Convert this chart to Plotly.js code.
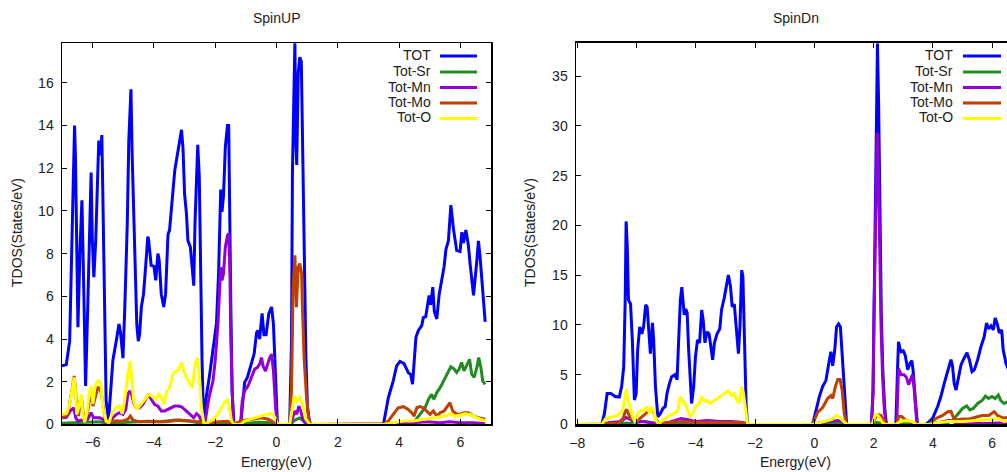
<!DOCTYPE html>
<html><head><meta charset="utf-8">
<script src="https://cdn.plot.ly/plotly-3.0.1.min.js"></script>
<style>html,body{margin:0;padding:0;background:#fff}#chart{width:1007px;height:472px}</style>
</head><body><div id="chart"></div>
<script>
// ---------- data: [energy (eV), DOS (states/eV)] ----------
const seriesNames = ['TOT', 'Tot-Sr', 'Tot-Mn', 'Tot-Mo', 'Tot-O'];
const seriesColors = ['#0000ff', '#228b22', '#9400d3', '#c04000', '#ffff00'];
const panelTitles = ['SpinUP', 'SpinDn'];
const xLabel = 'Energy(eV)';
const yLabel = 'TDOS(States/eV)';
const upXTicks = [-6, -4, -2, 0, 2, 4, 6];
const upYTicks = [0, 2, 4, 6, 8, 10, 12, 14, 16];
const dnXTicks = [-8, -6, -4, -2, 0, 2, 4, 6];
const dnYTicks = [0, 5, 10, 15, 20, 25, 30, 35];

// SpinUP
const upTot = [[-7.00,2.74],[-6.86,2.80],[-6.75,3.9],[-6.67,8.6],[-6.61,13.0],[-6.59,14.0],[-6.56,12.5],[-6.52,7.1],[-6.48,4.55],[-6.41,8.3],[-6.35,10.5],[-6.30,7.1],[-6.23,1.8],[-6.16,5.5],[-6.08,11.3],[-6.05,11.8],[-6.01,8.6],[-5.96,6.9],[-5.90,8.6],[-5.83,12.9],[-5.80,13.3],[-5.75,12.6],[-5.70,13.55],[-5.67,11.0],[-5.61,5.5],[-5.56,1.1],[-5.48,0.2],[-5.42,1.4],[-5.34,3.0],[-5.23,3.9],[-5.14,4.7],[-5.09,4.3],[-5.01,3.1],[-4.95,5.5],[-4.87,9.4],[-4.82,13.3],[-4.77,15.7],[-4.75,15.7],[-4.71,12.6],[-4.63,8.6],[-4.56,4.7],[-4.51,3.9],[-4.47,4.2],[-4.41,5.5],[-4.34,6.1],[-4.27,7.4],[-4.20,8.8],[-4.17,8.6],[-4.09,7.45],[-4.00,7.4],[-3.94,6.75],[-3.87,8.0],[-3.83,7.7],[-3.76,6.1],[-3.68,5.5],[-3.62,6.1],[-3.54,8.9],[-3.49,9.1],[-3.40,10.7],[-3.32,11.9],[-3.25,12.5],[-3.19,13.0],[-3.10,13.8],[-3.05,12.9],[-3.00,10.8],[-2.94,9.9],[-2.89,8.6],[-2.81,8.3],[-2.75,7.1],[-2.70,6.5],[-2.66,9.4],[-2.61,12.1],[-2.57,13.1],[-2.52,11.6],[-2.48,7.1],[-2.43,3.0],[-2.38,0.1],[-2.29,1.3],[-2.18,2.35],[-2.07,3.45],[-1.96,4.7],[-1.89,7.1],[-1.82,11.0],[-1.78,9.95],[-1.73,10.7],[-1.67,13.0],[-1.60,14.0],[-1.56,14.0],[-1.54,11.0],[-1.49,5.5],[-1.45,1.57],[-1.39,0.03],[-1.17,0],[-1.09,1.4],[-1.04,1.96],[-0.95,2.2],[-0.84,2.74],[-0.73,3.3],[-0.65,4.3],[-0.60,4.4],[-0.55,4.0],[-0.47,5.2],[-0.41,4.2],[-0.34,4.2],[-0.25,5.2],[-0.16,5.5],[-0.10,4.7],[-0.03,2.35],[0.03,0],[0.43,0],[0.49,3.9],[0.52,11.8],[0.56,15.7],[0.60,17.9],[0.63,13.3],[0.66,12.15],[0.71,16.5],[0.76,17.2],[0.81,17.0],[0.85,13.3],[0.90,7.1],[0.96,3.1],[1.01,0.8],[1.09,0],[3.49,0],[3.65,1.25],[3.81,2.04],[3.92,2.74],[4.03,2.95],[4.16,2.85],[4.30,2.43],[4.38,2.33],[4.44,1.88],[4.49,2.85],[4.55,4.08],[4.63,4.4],[4.74,4.63],[4.79,5.0],[4.87,5.05],[4.92,5.5],[4.98,6.04],[5.03,5.6],[5.10,6.43],[5.15,5.3],[5.23,4.94],[5.31,6.1],[5.39,6.8],[5.47,7.4],[5.53,8.2],[5.61,8.6],[5.69,10.27],[5.78,9.1],[5.88,8.15],[5.99,8.1],[6.05,9.0],[6.10,8.5],[6.18,9.1],[6.26,8.4],[6.32,7.5],[6.37,6.75],[6.43,6.04],[6.54,7.7],[6.59,8.6],[6.64,7.9],[6.73,6.3],[6.81,4.8]];
const upSr = [[-7.0,0.05],[-6.6,0.08],[-6.2,0.1],[-5.8,0.12],[-5.5,0.05],[-5.0,0.08],[-4.6,0.1],[-4.2,0.15],[-3.8,0.12],[-3.3,0.2],[-2.8,0.15],[-2.4,0.05],[-2.3,0],[-2.0,0.05],[-1.6,0.1],[-1.4,0],[-1.1,0.05],[-0.6,0.1],[-0.1,0.08],[0.05,0],[0.45,0],[0.6,0.2],[0.75,0.3],[0.9,0.15],[1.05,0],[3.5,0],[4.0,0.05],[4.47,0.08],[4.68,0.47],[4.85,0.78],[4.96,1.18],[5.06,1.41],[5.14,1.18],[5.23,1.49],[5.34,1.72],[5.45,2.04],[5.58,2.35],[5.69,2.7],[5.80,2.59],[5.88,2.43],[5.96,2.59],[6.04,2.9],[6.12,2.51],[6.21,2.82],[6.30,3.05],[6.37,2.35],[6.45,2.2],[6.54,2.67],[6.60,3.13],[6.67,2.67],[6.73,2.04],[6.81,1.88]];
const upMn = [[-7.0,0.31],[-6.86,0.33],[-6.73,0.63],[-6.62,0.78],[-6.55,0.31],[-6.48,0.16],[-6.37,0.2],[-6.26,0.16],[-6.16,0.24],[-6.05,0.55],[-5.97,0.31],[-5.88,0.31],[-5.77,0.31],[-5.67,0.24],[-5.56,0.08],[-5.45,0.08],[-5.34,0.31],[-5.23,0.47],[-5.12,0.55],[-5.01,0.47],[-4.92,0.7],[-4.85,1.41],[-4.79,1.57],[-4.73,1.41],[-4.66,1.02],[-4.58,0.78],[-4.47,0.78],[-4.36,0.94],[-4.27,1.18],[-4.18,1.41],[-4.09,1.18],[-3.98,0.94],[-3.87,0.86],[-3.76,0.63],[-3.65,0.63],[-3.54,0.7],[-3.43,0.78],[-3.32,0.86],[-3.21,0.86],[-3.10,0.82],[-3.00,0.7],[-2.89,0.55],[-2.78,0.39],[-2.70,0.31],[-2.61,0.5],[-2.52,0.39],[-2.41,0],[-2.34,0],[-2.26,0.78],[-2.18,1.41],[-2.07,2.04],[-2.00,3.0],[-1.91,4.7],[-1.85,6.75],[-1.82,7.37],[-1.78,6.75],[-1.73,7.06],[-1.67,8.3],[-1.60,8.86],[-1.56,8.94],[-1.52,7.06],[-1.49,3.92],[-1.45,1.1],[-1.41,0],[-1.17,0],[-1.12,1.1],[-1.04,1.57],[-0.93,1.8],[-0.82,2.2],[-0.71,2.59],[-0.62,2.67],[-0.55,2.82],[-0.49,3.13],[-0.44,2.75],[-0.36,2.5],[-0.29,2.82],[-0.22,3.13],[-0.16,3.29],[-0.10,2.5],[-0.03,0.78],[0.03,0],[0.45,0],[0.52,0.31],[0.60,0.63],[0.66,0.47],[0.73,0.86],[0.79,0.63],[0.88,0.16],[0.98,0],[3.5,0],[3.59,0.03],[4.03,0.08],[4.47,0.08],[4.90,0.12],[5.34,0.08],[5.66,0.12],[5.99,0.08],[6.43,0.08],[6.81,0.03]];
const upMo = [[-7.0,0.33],[-6.81,0.47],[-6.70,1.41],[-6.60,2.27],[-6.53,1.1],[-6.46,0.39],[-6.41,1.1],[-6.36,1.18],[-6.30,0.39],[-6.23,0.16],[-6.14,0.78],[-6.06,1.65],[-5.99,0.86],[-5.90,1.41],[-5.83,1.72],[-5.77,1.72],[-5.71,1.41],[-5.64,0.63],[-5.56,0.08],[-5.34,0.16],[-5.01,0.16],[-4.85,0.24],[-4.77,0.39],[-4.68,0.2],[-4.47,0.12],[-4.03,0.12],[-3.60,0.12],[-3.16,0.2],[-2.72,0.16],[-2.50,0.12],[-2.37,0],[-2.2,0.05],[-1.9,0.12],[-1.6,0.15],[-1.45,0.05],[-1.38,0],[-1.17,0.16],[-0.82,0.24],[-0.49,0.31],[-0.27,0.24],[-0.05,0.05],[0.03,0],[0.43,0],[0.49,1.57],[0.54,6.27],[0.60,7.92],[0.65,5.49],[0.71,7.37],[0.76,7.53],[0.82,7.06],[0.84,5.8],[0.90,3.13],[0.98,1.26],[1.06,0.16],[1.14,0],[3.49,0],[3.65,0.16],[3.81,0.47],[3.97,0.78],[4.14,0.83],[4.30,0.7],[4.41,0.55],[4.49,0.39],[4.58,0.78],[4.68,0.83],[4.79,0.78],[4.90,0.63],[5.01,0.47],[5.12,0.63],[5.23,0.39],[5.34,0.55],[5.47,0.63],[5.58,0.86],[5.66,1.02],[5.75,0.63],[5.86,0.5],[5.99,0.47],[6.12,0.55],[6.26,0.55],[6.43,0.39],[6.59,0.31],[6.81,0.24]];
const upO = [[-7.0,0.47],[-6.86,0.5],[-6.75,0.95],[-6.67,1.72],[-6.60,2.2],[-6.55,1.4],[-6.52,0.47],[-6.45,0.8],[-6.38,1.4],[-6.32,0.47],[-6.26,0.1],[-6.18,0.6],[-6.12,1.4],[-6.06,1.8],[-5.99,0.95],[-5.93,1.72],[-5.86,1.96],[-5.80,2.04],[-5.73,1.9],[-5.67,0.8],[-5.56,0.16],[-5.47,0.08],[-5.34,0.63],[-5.23,0.8],[-5.14,0.87],[-5.03,0.5],[-4.96,1.1],[-4.85,2.35],[-4.77,2.98],[-4.74,2.35],[-4.66,1.1],[-4.56,0.7],[-4.41,0.95],[-4.30,1.18],[-4.16,1.41],[-4.07,1.33],[-3.94,1.18],[-3.84,1.41],[-3.76,1.26],[-3.68,0.95],[-3.58,1.57],[-3.49,1.72],[-3.38,2.35],[-3.27,2.5],[-3.19,2.58],[-3.11,2.9],[-3.03,2.5],[-2.94,2.2],[-2.83,1.88],[-2.75,1.72],[-2.67,2.66],[-2.59,3.13],[-2.52,2.35],[-2.45,0.8],[-2.37,0.03],[-2.29,0.05],[-2.02,0.27],[-1.85,0.63],[-1.71,1.02],[-1.60,1.13],[-1.54,0.8],[-1.47,0.16],[-1.38,0],[-1.17,0],[-1.04,0.16],[-0.71,0.3],[-0.49,0.38],[-0.33,0.47],[-0.16,0.5],[-0.07,0.38],[0.03,0.05],[0.1,0],[0.43,0],[0.49,0.63],[0.58,1.33],[0.66,1.1],[0.76,1.26],[0.84,1.0],[0.95,0.27],[1.09,0],[3.49,0],[3.81,0.08],[4.14,0.16],[4.47,0.16],[4.79,0.24],[5.12,0.31],[5.34,0.35],[5.50,0.39],[5.66,0.5],[5.83,0.39],[5.99,0.43],[6.15,0.5],[6.32,0.47],[6.54,0.31],[6.81,0.16]];

// SpinDn
const dnTot = [[-8.0,0],[-7.17,0],[-7.08,1.1],[-6.99,3.1],[-6.86,3.1],[-6.72,2.8],[-6.58,2.75],[-6.50,3.8],[-6.43,5.8],[-6.38,12.5],[-6.35,20.4],[-6.31,17.9],[-6.27,12.5],[-6.20,12.1],[-6.14,8.5],[-6.07,2.45],[-6.01,3.1],[-5.96,7.5],[-5.89,9.8],[-5.82,9.1],[-5.76,9.8],[-5.69,12.0],[-5.64,11.8],[-5.58,9.1],[-5.53,7.1],[-5.46,10.2],[-5.42,8.5],[-5.36,3.8],[-5.28,0.77],[-5.19,1.1],[-5.11,1.6],[-5.03,1.8],[-4.97,3.1],[-4.89,4.1],[-4.81,4.8],[-4.70,5.0],[-4.63,4.5],[-4.59,7.5],[-4.52,12.5],[-4.47,13.8],[-4.43,12.5],[-4.39,11.0],[-4.34,11.6],[-4.29,11.2],[-4.24,7.5],[-4.18,3.8],[-4.14,2.1],[-4.07,3.8],[-4.01,6.8],[-3.94,8.5],[-3.87,8.2],[-3.80,11.5],[-3.75,10.5],[-3.69,8.2],[-3.62,9.3],[-3.55,9.1],[-3.48,7.5],[-3.43,6.5],[-3.37,8.2],[-3.28,9.1],[-3.19,9.6],[-3.13,11.5],[-3.04,12.7],[-2.98,13.8],[-2.90,15.0],[-2.83,13.9],[-2.77,11.8],[-2.70,12.1],[-2.63,9.8],[-2.56,7.1],[-2.51,9.8],[-2.45,15.5],[-2.41,14.9],[-2.36,9.1],[-2.30,1.8],[-2.25,0],[-0.06,0],[0.06,1.44],[0.17,2.8],[0.28,3.8],[0.39,4.4],[0.51,6.5],[0.56,7.3],[0.62,5.9],[0.69,7.5],[0.75,9.8],[0.82,10.1],[0.88,9.8],[0.95,6.5],[1.02,2.8],[1.09,0],[1.93,0],[1.98,3.5],[2.03,15],[2.08,30],[2.13,38.3],[2.17,32],[2.21,20],[2.26,11],[2.31,5.5],[2.37,1.8],[2.43,0],[2.75,0],[2.81,5.8],[2.84,8.3],[2.89,7.6],[2.93,7.3],[3.00,7.4],[3.07,6.9],[3.15,5.5],[3.22,6.1],[3.29,6.4],[3.33,5.5],[3.41,2.4],[3.48,0],[3.77,0],[3.99,0.6],[4.16,1.8],[4.27,2.8],[4.38,4.1],[4.50,5.5],[4.61,6.5],[4.66,5.9],[4.72,4.1],[4.78,3.45],[4.87,4.8],[4.95,6.0],[5.06,6.7],[5.15,7.2],[5.23,6.5],[5.32,5.3],[5.40,5.5],[5.51,6.5],[5.62,7.8],[5.73,8.8],[5.81,10.2],[5.88,9.6],[5.96,9.9],[6.04,9.5],[6.10,10.7],[6.18,10.0],[6.24,9.2],[6.32,9.5],[6.37,7.5],[6.47,6.1],[6.55,5.5]];
const dnSr = [[-8.0,0],[-7.17,0],[-6.9,0.05],[-6.5,0.1],[-6.2,0.15],[-6.0,0.3],[-5.7,0.3],[-5.4,0.15],[-5.2,0.05],[-4.8,0.1],[-4.4,0.15],[-4.0,0.15],[-3.5,0.2],[-3.0,0.2],[-2.5,0.2],[-2.25,0],[-0.05,0],[0.5,0.1],[0.9,0.1],[1.1,0],[1.95,0],[2.1,0.2],[2.4,0],[2.78,0],[3.0,0.1],[3.46,0],[3.9,0],[4.2,0.05],[4.44,0.1],[4.66,0.4],[4.83,1.0],[5.0,1.6],[5.14,1.85],[5.25,1.45],[5.36,1.6],[5.51,2.1],[5.66,2.4],[5.77,2.85],[5.88,2.6],[5.99,2.8],[6.10,2.6],[6.21,2.95],[6.29,2.4],[6.40,2.1],[6.55,2.3]];
const dnMn = [[-8.0,0],[-7.17,0],[-6.9,0.2],[-6.5,0.3],[-6.35,0.7],[-6.2,0.5],[-6.0,0.2],[-5.8,0.3],[-5.5,0.2],[-5.25,0.05],[-4.9,0.2],[-4.5,0.6],[-4.3,0.5],[-4.0,0.3],[-3.6,0.4],[-3.2,0.3],[-2.8,0.3],[-2.4,0.2],[-2.25,0],[-0.05,0],[0.2,0.2],[0.5,0.3],[0.8,0.4],[1.0,0.2],[1.1,0],[1.93,0],[1.98,3],[2.02,12],[2.07,22],[2.12,29.3],[2.16,26],[2.20,18],[2.25,10],[2.30,5],[2.36,1.5],[2.42,0],[2.78,0],[2.84,5.6],[2.93,5.0],[3.03,5.0],[3.11,4.7],[3.18,4.0],[3.25,4.5],[3.31,5.0],[3.37,3.5],[3.46,0],[3.9,0],[4.3,0.2],[4.55,0.4],[4.8,0.15],[5.2,0.1],[5.8,0.1],[6.2,0.15],[6.55,0.1]];
const dnMo = [[-8.0,0],[-7.17,0],[-7.0,0.1],[-6.6,0.15],[-6.45,0.6],[-6.38,1.3],[-6.33,1.5],[-6.2,0.6],[-6.0,0.3],[-5.8,0.8],[-5.6,1.3],[-5.45,1.5],[-5.35,0.6],[-5.25,0.1],[-4.9,0.2],[-4.5,0.3],[-4.0,0.2],[-3.0,0.2],[-2.4,0.2],[-2.25,0],[-0.06,0],[0.11,1.2],[0.28,1.7],[0.45,2.6],[0.56,2.9],[0.62,2.6],[0.71,3.8],[0.79,4.5],[0.87,4.5],[0.94,3.4],[1.01,1.1],[1.09,0],[1.95,0],[2.05,0.6],[2.15,1.0],[2.25,0.9],[2.35,0.3],[2.42,0],[2.78,0],[2.85,0.8],[2.95,0.8],[3.05,0.5],[3.2,0.3],[3.35,0.15],[3.46,0],[3.88,0],[4.10,0.6],[4.33,0.9],[4.50,1.27],[4.61,1.3],[4.69,0.7],[4.78,0.45],[5.0,0.55],[5.23,0.55],[5.45,0.7],[5.66,0.9],[5.88,0.9],[6.07,1.27],[6.18,0.9],[6.35,0.65],[6.55,0.7]];
const dnO = [[-8.0,0],[-7.17,0],[-7.03,0.6],[-6.86,0.7],[-6.64,0.9],[-6.47,1.4],[-6.38,3.1],[-6.34,3.6],[-6.29,2.4],[-6.22,1.8],[-6.12,0.7],[-6.04,0.2],[-5.96,1.1],[-5.84,1.4],[-5.73,1.4],[-5.64,1.8],[-5.56,1.1],[-5.48,1.7],[-5.42,1.4],[-5.34,0.4],[-5.26,0.05],[-5.11,0.4],[-4.94,0.8],[-4.72,1.1],[-4.61,1.4],[-4.52,2.8],[-4.45,2.4],[-4.36,2.1],[-4.27,1.4],[-4.18,0.7],[-4.10,1.1],[-3.99,1.9],[-3.88,2.1],[-3.80,2.8],[-3.71,2.3],[-3.62,2.4],[-3.51,2.1],[-3.39,2.4],[-3.26,2.6],[-3.13,2.9],[-3.01,3.1],[-2.90,3.4],[-2.79,2.9],[-2.70,3.1],[-2.61,2.4],[-2.54,2.1],[-2.45,3.8],[-2.39,3.1],[-2.30,1.1],[-2.25,0],[-0.05,0],[0.2,0.2],[0.4,0.4],[0.6,0.5],[0.75,0.9],[0.85,0.7],[0.95,0.4],[1.05,0.1],[1.1,0],[1.95,0],[2.05,0.9],[2.12,1.0],[2.2,0.6],[2.3,0.2],[2.4,0],[2.75,0],[2.9,0.3],[3.1,0.4],[3.3,0.3],[3.45,0],[3.9,0],[4.2,0.2],[4.5,0.3],[5.0,0.3],[5.5,0.4],[6.0,0.5],[6.2,0.6],[6.4,0.3],[6.55,0.35]];

const upSeries = [upTot, upSr, upMn, upMo, upO];
const dnSeries = [dnTot, dnSr, dnMn, dnMo, dnO];

// ---------- geometry helpers (pixel -> paper) ----------
const W = 1007, H = 472;
const px = v => v / W, py = v => 1 - v / H;
const FONT = 'Liberation Sans, Arial, sans-serif';

const traces = [];
function addPanel(series, xa, ya) {
  series.forEach((s, i) => {
    traces.push({
      x: s.map(p => p[0]), y: s.map(p => p[1]),
      type: 'scatter', mode: 'lines', name: seriesNames[i],
      xaxis: xa, yaxis: ya, showlegend: false, hoverinfo: 'skip',
      line: {color: seriesColors[i], width: 3, shape: 'linear'}
    });
  });
}
addPanel(upSeries, 'x', 'y');
addPanel(dnSeries, 'x2', 'y2');

const axisBase = {
  showgrid: false, zeroline: false, showline: true, linecolor: '#000', linewidth: 1.5,
  ticks: 'inside', ticklen: 5, tickwidth: 1, tickcolor: '#000',
  tickfont: {family: FONT, size: 14, color: '#222'}, tickmode: 'array'
};
const yDomain = [py(424.4), py(43.3)];

const annotations = [];
const shapes = [];
function text(t, x, y, opts) {
  annotations.push(Object.assign({text: t, x: px(x), y: py(y), xref: 'paper', yref: 'paper',
    showarrow: false, xanchor: 'center', yanchor: 'middle',
    font: {family: FONT, size: 14, color: '#222'}}, opts || {}));
}
// titles
text(panelTitles[0], 276, 18, {font: {family: FONT, size: 14, color: '#222'}});
text(panelTitles[1], 796, 18, {font: {family: FONT, size: 14, color: '#222'}});
// axis titles
text(xLabel, 276, 462);
text(xLabel, 795, 462);
text(yLabel, 17, 233, {textangle: -90});
text(yLabel, 530, 233, {textangle: -90});
// legends
function legend(textRight, lineX0, lineX1, rows) {
  seriesNames.forEach((n, i) => {
    text(n, textRight, rows[i], {xanchor: 'right'});
    shapes.push({type: 'line', xref: 'paper', yref: 'paper',
      x0: px(lineX0), x1: px(lineX1), y0: py(rows[i] + 1), y1: py(rows[i] + 1),
      line: {color: seriesColors[i], width: 3}});
  });
}
legend(433, 440, 477, [55, 71, 86.5, 102, 117.5]);
legend(955, 963, 1001, [55, 71, 86.5, 102, 117.5]);

const layout = {
  width: W, height: H, margin: {l: 0, r: 0, t: 0, b: 0},
  paper_bgcolor: '#fff', plot_bgcolor: '#fff', showlegend: false,
  xaxis: Object.assign({}, axisBase, {domain: [px(62), px(491)], range: [-7, 7],
    tickvals: upXTicks, mirror: 'ticks', anchor: 'y', ticklabelstandoff: 4}),
  yaxis: Object.assign({}, axisBase, {domain: yDomain, range: [0, 17.85],
    tickvals: upYTicks, mirror: 'ticks', anchor: 'x', ticklabelstandoff: 4}),
  xaxis2: Object.assign({}, axisBase, {domain: [px(576), 1], range: [-8.04, 6.5],
    tickvals: dnXTicks, mirror: 'ticks', anchor: 'y2', linewidth: 2.5, ticklabelstandoff: 4}),
  yaxis2: Object.assign({}, axisBase, {domain: yDomain, range: [0, 38.3],
    tickvals: dnYTicks, mirror: false, anchor: 'x2', ticklabelstandoff: 4}),
  annotations: annotations, shapes: shapes
};

Plotly.newPlot('chart', traces, layout, {staticPlot: true, displayModeBar: false});
</script>
</body></html>
